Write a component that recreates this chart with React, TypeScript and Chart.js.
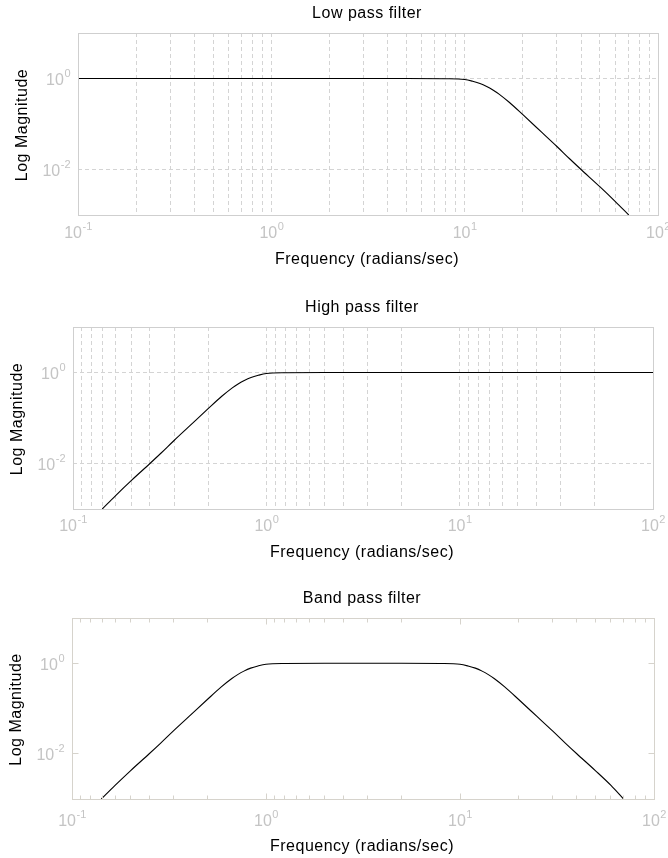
import React, { useEffect, useRef } from "react";
import { Chart, registerables } from "chart.js";

Chart.register(...registerables);

// Magnitude responses (frequency in rad/s, linear magnitude)
const lowFreq = [0.1, 1, 5, 8, 10, 11, 12, 13, 14, 15, 17, 20, 25, 30, 35, 40, 50, 60, 70.6];
const lowMag = [1, 1, 1, 0.99, 0.95, 0.87, 0.78, 0.67, 0.56, 0.46, 0.3, 0.16, 0.066, 0.032, 0.017, 0.01, 0.0042, 0.002, 0.001];

const highFreq = [0.1417, 0.1667, 0.2, 0.25, 0.2857, 0.3333, 0.4, 0.5, 0.5882, 0.6667, 0.7143, 0.7692, 0.8333, 0.9091, 1, 1.25, 2, 10, 100];
const highMag = [0.001, 0.002, 0.0042, 0.01, 0.017, 0.032, 0.066, 0.16, 0.3, 0.46, 0.56, 0.67, 0.78, 0.87, 0.95, 0.99, 1, 1, 1];

const bandFreq = [0.1417, 0.1667, 0.2, 0.25, 0.2857, 0.3333, 0.4, 0.5, 0.5882, 0.6667, 0.7143, 0.7692, 0.8333, 0.9091, 1, 1.25, 2, 5, 8, 10, 11, 12, 13, 14, 15, 17, 20, 25, 30, 35, 40, 50, 60, 69.7];
const bandMag = [0.001, 0.002, 0.0042, 0.01, 0.017, 0.032, 0.066, 0.16, 0.3, 0.46, 0.56, 0.67, 0.78, 0.87, 0.95, 0.99, 1, 1, 0.99, 0.95, 0.87, 0.78, 0.67, 0.56, 0.46, 0.3, 0.16, 0.066, 0.032, 0.017, 0.01, 0.0042, 0.002, 0.001];

// Axis ticks / grid positions
const decadeX = [0.1, 1, 10, 100];
const decadeExpX = ["-1", "0", "1", "2"];
const decadeY = [0.01, 1];
const decadeExpY = ["-2", "0"];

const lowGridX = [0.2, 0.3, 0.4, 0.5, 0.6, 0.7, 0.8, 0.9, 1, 2, 3, 4, 5, 6, 7, 8, 9, 10, 20, 30, 40, 50, 60, 70, 80, 90];
const highGridX = [0.1111, 0.125, 0.1429, 0.1667, 0.2, 0.25, 0.3333, 0.5, 1, 1.111, 1.25, 1.429, 1.667, 2, 2.5, 3.333, 5, 10, 11.11, 12.5, 14.29, 16.67, 20, 25, 33.33, 50];
const bandTicksX = [0.1111, 0.125, 0.1429, 0.1667, 0.2, 0.25, 0.3333, 0.5, 1, 1.111, 1.25, 1.429, 1.667, 2, 2.5, 3.333, 5, 10, 20, 30, 40, 50, 60, 70, 80, 90];

const titles = ["Low pass filter", "High pass filter", "Band pass filter"];
const xTitle = "Frequency (radians/sec)";
const yTitle = "Log Magnitude";

const W = 668;
const LABEL_FONT = '16px "Liberation Sans", Arial, Helvetica, sans-serif';
const TICK_FONT = '16px "Liberation Sans", Arial, Helvetica, sans-serif';
const EXP_FONT = '11px "Liberation Sans", Arial, Helvetica, sans-serif';
const EDGE = "#cfcfcf";
const GRID = "#d4d4d4";
const TICK_TEXT = "#c4c4c4";

const align = (p: number) => Math.round(p - 0.5) + 0.5;

const framePlugin = {
  id: "frame",
  afterDraw(chart: any, _args: any, opts: any) {
    const { ctx, chartArea: a, scales } = chart;
    const xs = scales.x;
    const ys = scales.y;
    const L = align(a.left), R = align(a.right), T = align(a.top), B = align(a.bottom);
    ctx.save();
    ctx.lineWidth = 1;
    ctx.setLineDash([]);
    ctx.strokeStyle = opts.edgeColor || EDGE;

    // inward tick marks
    if (opts.tickMarks) {
      ctx.beginPath();
      for (const v of opts.tickMarks) {
        const px = align(xs.getPixelForValue(v));
        const len = decadeX.includes(v) ? 6 : 4;
        ctx.moveTo(px, B); ctx.lineTo(px, B - len);
        ctx.moveTo(px, T); ctx.lineTo(px, T + len);
      }
      for (const v of decadeY) {
        const py = align(ys.getPixelForValue(v));
        ctx.moveTo(L, py); ctx.lineTo(L + 6, py);
        ctx.moveTo(R, py); ctx.lineTo(R - 6, py);
      }
      ctx.stroke();
    }

    // axes box
    ctx.strokeRect(L, T, R - L, B - T);

    // power-of-ten tick labels
    ctx.fillStyle = TICK_TEXT;
    ctx.textBaseline = "alphabetic";
    ctx.textAlign = "left";
    decadeX.forEach((v, i) => {
      const px = xs.getPixelForValue(v);
      ctx.font = TICK_FONT;
      const w10 = ctx.measureText("10").width;
      ctx.font = EXP_FONT;
      const we = ctx.measureText(decadeExpX[i]).width;
      const x0 = px - (w10 + we) / 2;
      const base = a.bottom + opts.tickBase;
      ctx.font = TICK_FONT;
      ctx.fillText("10", x0, base);
      ctx.font = EXP_FONT;
      ctx.fillText(decadeExpX[i], x0 + w10 + 0.5, base - 8);
    });
    decadeY.forEach((v, i) => {
      const py = ys.getPixelForValue(v);
      ctx.font = EXP_FONT;
      const we = ctx.measureText(decadeExpY[i]).width;
      ctx.font = TICK_FONT;
      const w10 = ctx.measureText("10").width;
      const x0 = a.left - 8 - we - w10;
      const base = py + 6.5;
      ctx.fillText("10", x0, base);
      ctx.font = EXP_FONT;
      ctx.fillText(decadeExpY[i], x0 + w10 + 0.5, base - 8);
    });

    // titles
    ctx.fillStyle = "#000";
    ctx.font = LABEL_FONT;
    (ctx as any).letterSpacing = "0.5px";
    ctx.textAlign = "center";
    const cx = (a.left + a.right) / 2;
    ctx.fillText(opts.title, cx - 1, a.top - 15);
    ctx.fillText(xTitle, cx - 1, a.bottom + opts.labelBase);
    ctx.translate(a.left - 51, (a.top + a.bottom) / 2 + 1);
    ctx.rotate(-Math.PI / 2);
    ctx.fillText(yTitle, 0, 0);
    ctx.restore();
  },
};

type PanelCfg = {
  top: number;
  height: number;
  pad: { left: number; right: number; top: number; bottom: number };
  freq: number[];
  mag: number[];
  title: string;
  gridX: number[];
  showGrid: boolean;
  edge: string;
  tickBase: number;
  labelBase: number;
};

const panels: PanelCfg[] = [
  { top: 0, height: 285, pad: { left: 78, right: 10, top: 33, bottom: 70 }, freq: lowFreq, mag: lowMag, title: titles[0], gridX: lowGridX, showGrid: true, edge: EDGE, tickBase: 23, labelBase: 49 },
  { top: 285, height: 290, pad: { left: 73, right: 15, top: 42, bottom: 66 }, freq: highFreq, mag: highMag, title: titles[1], gridX: highGridX, showGrid: true, edge: EDGE, tickBase: 22, labelBase: 48 },
  { top: 575, height: 283, pad: { left: 72, right: 14, top: 43, bottom: 59 }, freq: bandFreq, mag: bandMag, title: titles[2], gridX: bandTicksX, showGrid: false, edge: "#d6d3cc", tickBase: 27, labelBase: 52 },
];

function Panel({ cfg }: { cfg: PanelCfg }) {
  const ref = useRef<HTMLCanvasElement>(null);
  useEffect(() => {
    const chart = new Chart(ref.current as HTMLCanvasElement, {
      type: "line",
      data: {
        datasets: [
          {
            data: cfg.freq.map((f, i) => ({ x: f, y: cfg.mag[i] })),
            borderColor: "#000",
            borderWidth: 1.1,
            pointRadius: 0,
            fill: false,
            cubicInterpolationMode: "monotone",
          },
        ],
      },
      options: {
        responsive: false,
        devicePixelRatio: 1,
        animation: false,
        events: [],
        layout: { padding: cfg.pad },
        plugins: {
          legend: { display: false },
          tooltip: { enabled: false },
          frame: {
            title: cfg.title,
            tickMarks: cfg.showGrid ? null : cfg.gridX,
            edgeColor: cfg.edge,
            tickBase: cfg.tickBase,
            labelBase: cfg.labelBase,
          },
        } as any,
        scales: {
          x: {
            type: "logarithmic",
            min: 0.1,
            max: 100,
            afterBuildTicks: (s: any) => {
              s.ticks = cfg.gridX.map((v) => ({ value: v }));
            },
            ticks: { display: false },
            grid: { display: cfg.showGrid, color: GRID, lineWidth: 1, drawTicks: false },
            border: { display: false, dash: [4, 3] },
          },
          y: {
            type: "logarithmic",
            min: 0.001,
            max: 10,
            afterBuildTicks: (s: any) => {
              s.ticks = decadeY.map((v) => ({ value: v }));
            },
            ticks: { display: false },
            grid: { display: cfg.showGrid, color: GRID, lineWidth: 1, drawTicks: false },
            border: { display: false, dash: [4, 3] },
          },
        },
      } as any,
      plugins: [framePlugin],
    });
    return () => chart.destroy();
  }, [cfg]);
  return (
    <canvas
      ref={ref}
      width={W}
      height={cfg.height}
      style={{ position: "absolute", left: 0, top: cfg.top, width: W, height: cfg.height, display: "block" }}
    />
  );
}

export default function App() {
  return (
    <div style={{ position: "absolute", left: 0, top: 0, width: W, height: 858, background: "#fff", overflow: "hidden" }}>
      {panels.map((p, i) => (
        <Panel key={i} cfg={p} />
      ))}
    </div>
  );
}
